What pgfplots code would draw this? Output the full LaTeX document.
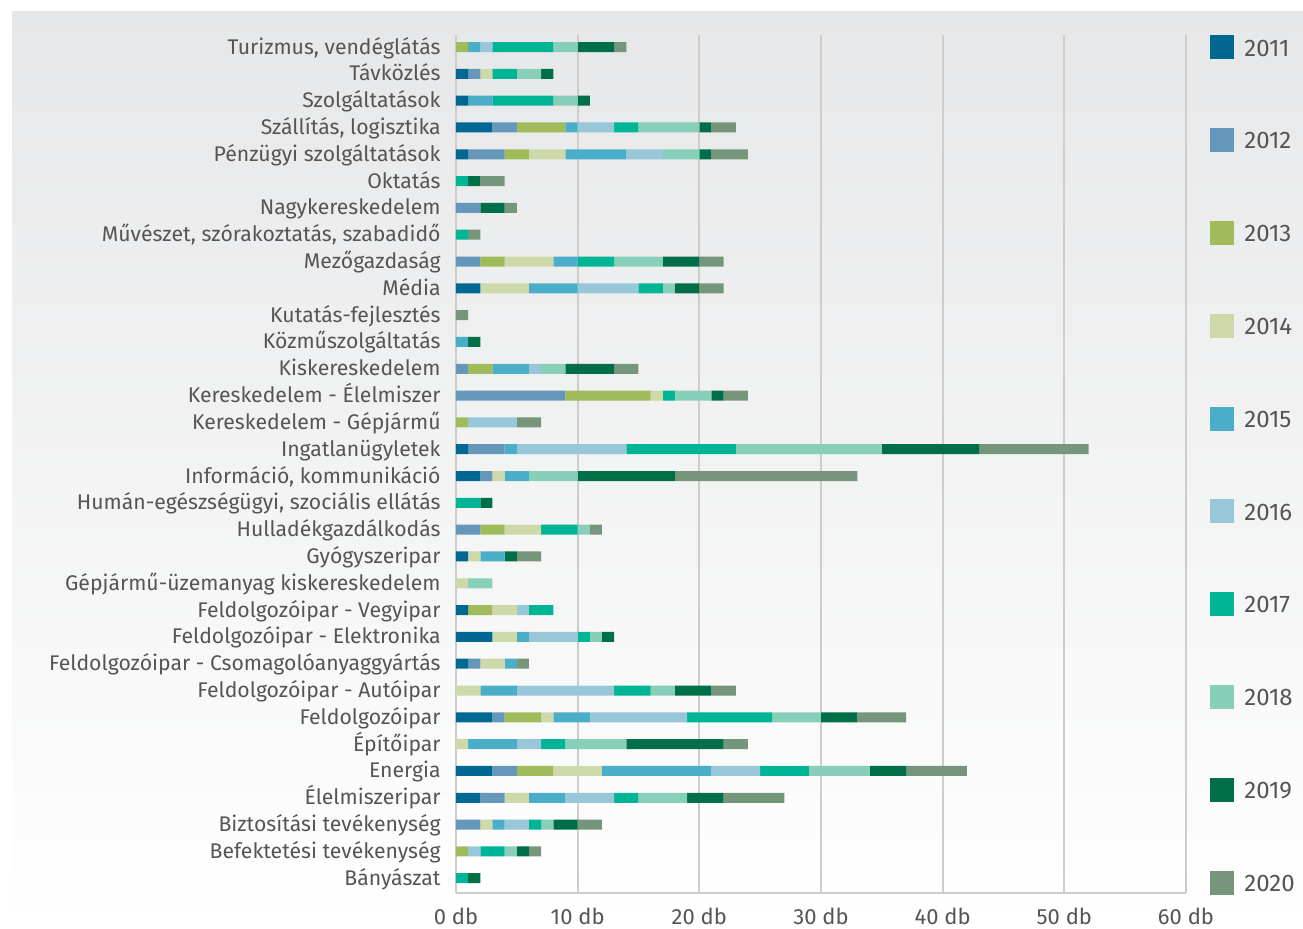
\documentclass[border=0pt]{standalone}
\usepackage{fontspec}
\setmainfont{Fira Sans}
\usepackage{pgfplots}
\usepackage{pgfplotstable}
\pgfplotsset{compat=1.18}

\definecolor{c2011}{HTML}{006892}
\definecolor{c2012}{HTML}{6497B9}
\definecolor{c2013}{HTML}{A0BC5A}
\definecolor{c2014}{HTML}{CDD9A8}
\definecolor{c2015}{HTML}{4BAEC8}
\definecolor{c2016}{HTML}{98C7DA}
\definecolor{c2017}{HTML}{00B596}
\definecolor{c2018}{HTML}{88CFB9}
\definecolor{c2019}{HTML}{006E46}
\definecolor{c2020}{HTML}{76967B}
\definecolor{txt}{HTML}{555555}
\definecolor{gridc}{HTML}{CDCDCD}
\definecolor{bgtop}{HTML}{E6E7E8}

% one row per sector, top of chart first; y = position from bottom
\pgfplotstableread{
y  a  b  c  d  e  f  g  h  i  j
31 0  0  1  0  1  1  5  2  3  1
30 1  1  0  1  0  0  2  2  1  0
29 1  0  0  0  2  0  5  2  1  0
28 3  2  4  0  1  3  2  5  1  2
27 1  3  2  3  5  3  0  3  1  3
26 0  0  0  0  0  0  1  0  1  2
25 0  2  0  0  0  0  0  0  2  1
24 0  0  0  0  0  0  1  0  0  1
23 0  2  2  4  2  0  3  4  3  2
22 2  0  0  4  4  5  2  1  2  2
21 0  0  0  0  0  0  0  0  0  1
20 0  0  0  0  1  0  0  0  1  0
19 0  1  2  0  3  1  0  2  4  2
18 0  9  7  1  0  0  1  3  1  2
17 0  0  1  0  0  4  0  0  0  2
16 1  3  0  0  1  9  9  12 8  9
15 2  1  0  1  2  0  0  4  8  15
14 0  0  0  0  0  0  2  0  1  0
13 0  2  2  3  0  0  3  1  0  1
12 1  0  0  1  2  0  0  0  1  2
11 0  0  0  1  0  0  0  2  0  0
10 1  0  2  2  0  1  2  0  0  0
9  3  0  0  2  1  4  1  1  1  0
8  1  1  0  2  1  0  0  0  0  1
7  0  0  0  2  3  8  3  2  3  2
6  3  1  3  1  3  8  7  4  3  4
5  0  0  0  1  4  2  2  5  8  2
4  3  2  3  4  9  4  4  5  3  5
3  2  2  0  2  3  4  2  4  3  5
2  0  2  0  1  1  2  1  1  2  2
1  0  0  1  0  0  1  2  1  1  1
0  0  0  0  0  0  0  1  0  1  0
}\sectors

\begin{document}
\begin{tikzpicture}[x=1pt,y=1pt]
\fill[white] (0,0) rectangle (651.5,464.5);
\shade[top color=bgtop, bottom color=white] (6,0) rectangle (651.5,458.5);
\begin{axis}[
    at={(228pt,18pt)}, anchor=south west,
    scale only axis, width=365pt, height=429pt,
    xbar stacked, bar width=5pt,
    xmin=0, xmax=60, ymin=-0.55, ymax=31.45,
    axis x line=bottom, axis y line=left,
    axis line style={draw=gridc, line width=1pt, -},
    xmajorgrids, major grid style={draw=gridc, line width=1pt},
    major tick length=0pt,
    xtick={0,10,...,60},
    xticklabels={0 db,10 db,20 db,30 db,40 db,50 db,60 db},
    x tick label style={font=\fontsize{11}{12}\selectfont, text=txt, anchor=base, inner sep=0pt, yshift=-16pt},
    ytick={0,...,31},
    yticklabels={Bányászat, Befektetési tevékenység, Biztosítási tevékenység,
      Élelmiszeripar, Energia, Építőipar, Feldolgozóipar,
      Feldolgozóipar - Autóipar, Feldolgozóipar - Csomagolóanyaggyártás,
      Feldolgozóipar - Elektronika, Feldolgozóipar - Vegyipar,
      Gépjármű-üzemanyag kiskereskedelem, Gyógyszeripar, Hulladékgazdálkodás,
      {Humán-egészségügyi, szociális ellátás}, {Információ, kommunikáció},
      Ingatlanügyletek, Kereskedelem - Gépjármű, Kereskedelem - Élelmiszer,
      Kiskereskedelem, Közműszolgáltatás, Kutatás-fejlesztés, Média,
      Mezőgazdaság, {Művészet, szórakoztatás, szabadidő}, Nagykereskedelem,
      Oktatás, Pénzügyi szolgáltatások, {Szállítás, logisztika},
      Szolgáltatások, Távközlés, {Turizmus, vendéglátás}},
    y tick label style={font=\fontsize{10.6}{12}\selectfont, text=txt, anchor=east,
      inner sep=0pt, text height=7.5pt, text depth=0.5pt, xshift=-7.5pt},
    every axis plot/.append style={draw=none},
    legend image code/.code={\fill[#1] (0pt,-5pt) rectangle (12pt,7pt);},
    legend style={at={(1,1)}, anchor=north west, xshift=12pt,
      draw=none, fill=none, inner sep=0pt, row sep=34.4pt,
      font=\fontsize{12}{13}\selectfont, text=txt,
      nodes={inner sep=0pt},
      /tikz/every odd column/.append style={column sep=5pt}},
    legend cell align=left,
]
\addplot[fill=c2011] table[x=a, y=y] {\sectors};
\addplot[fill=c2012] table[x=b, y=y] {\sectors};
\addplot[fill=c2013] table[x=c, y=y] {\sectors};
\addplot[fill=c2014] table[x=d, y=y] {\sectors};
\addplot[fill=c2015] table[x=e, y=y] {\sectors};
\addplot[fill=c2016] table[x=f, y=y] {\sectors};
\addplot[fill=c2017] table[x=g, y=y] {\sectors};
\addplot[fill=c2018] table[x=h, y=y] {\sectors};
\addplot[fill=c2019] table[x=i, y=y] {\sectors};
\addplot[fill=c2020] table[x=j, y=y] {\sectors};
\legend{2011,2012,2013,2014,2015,2016,2017,2018,2019,2020}
\end{axis}
\end{tikzpicture}
\end{document}
